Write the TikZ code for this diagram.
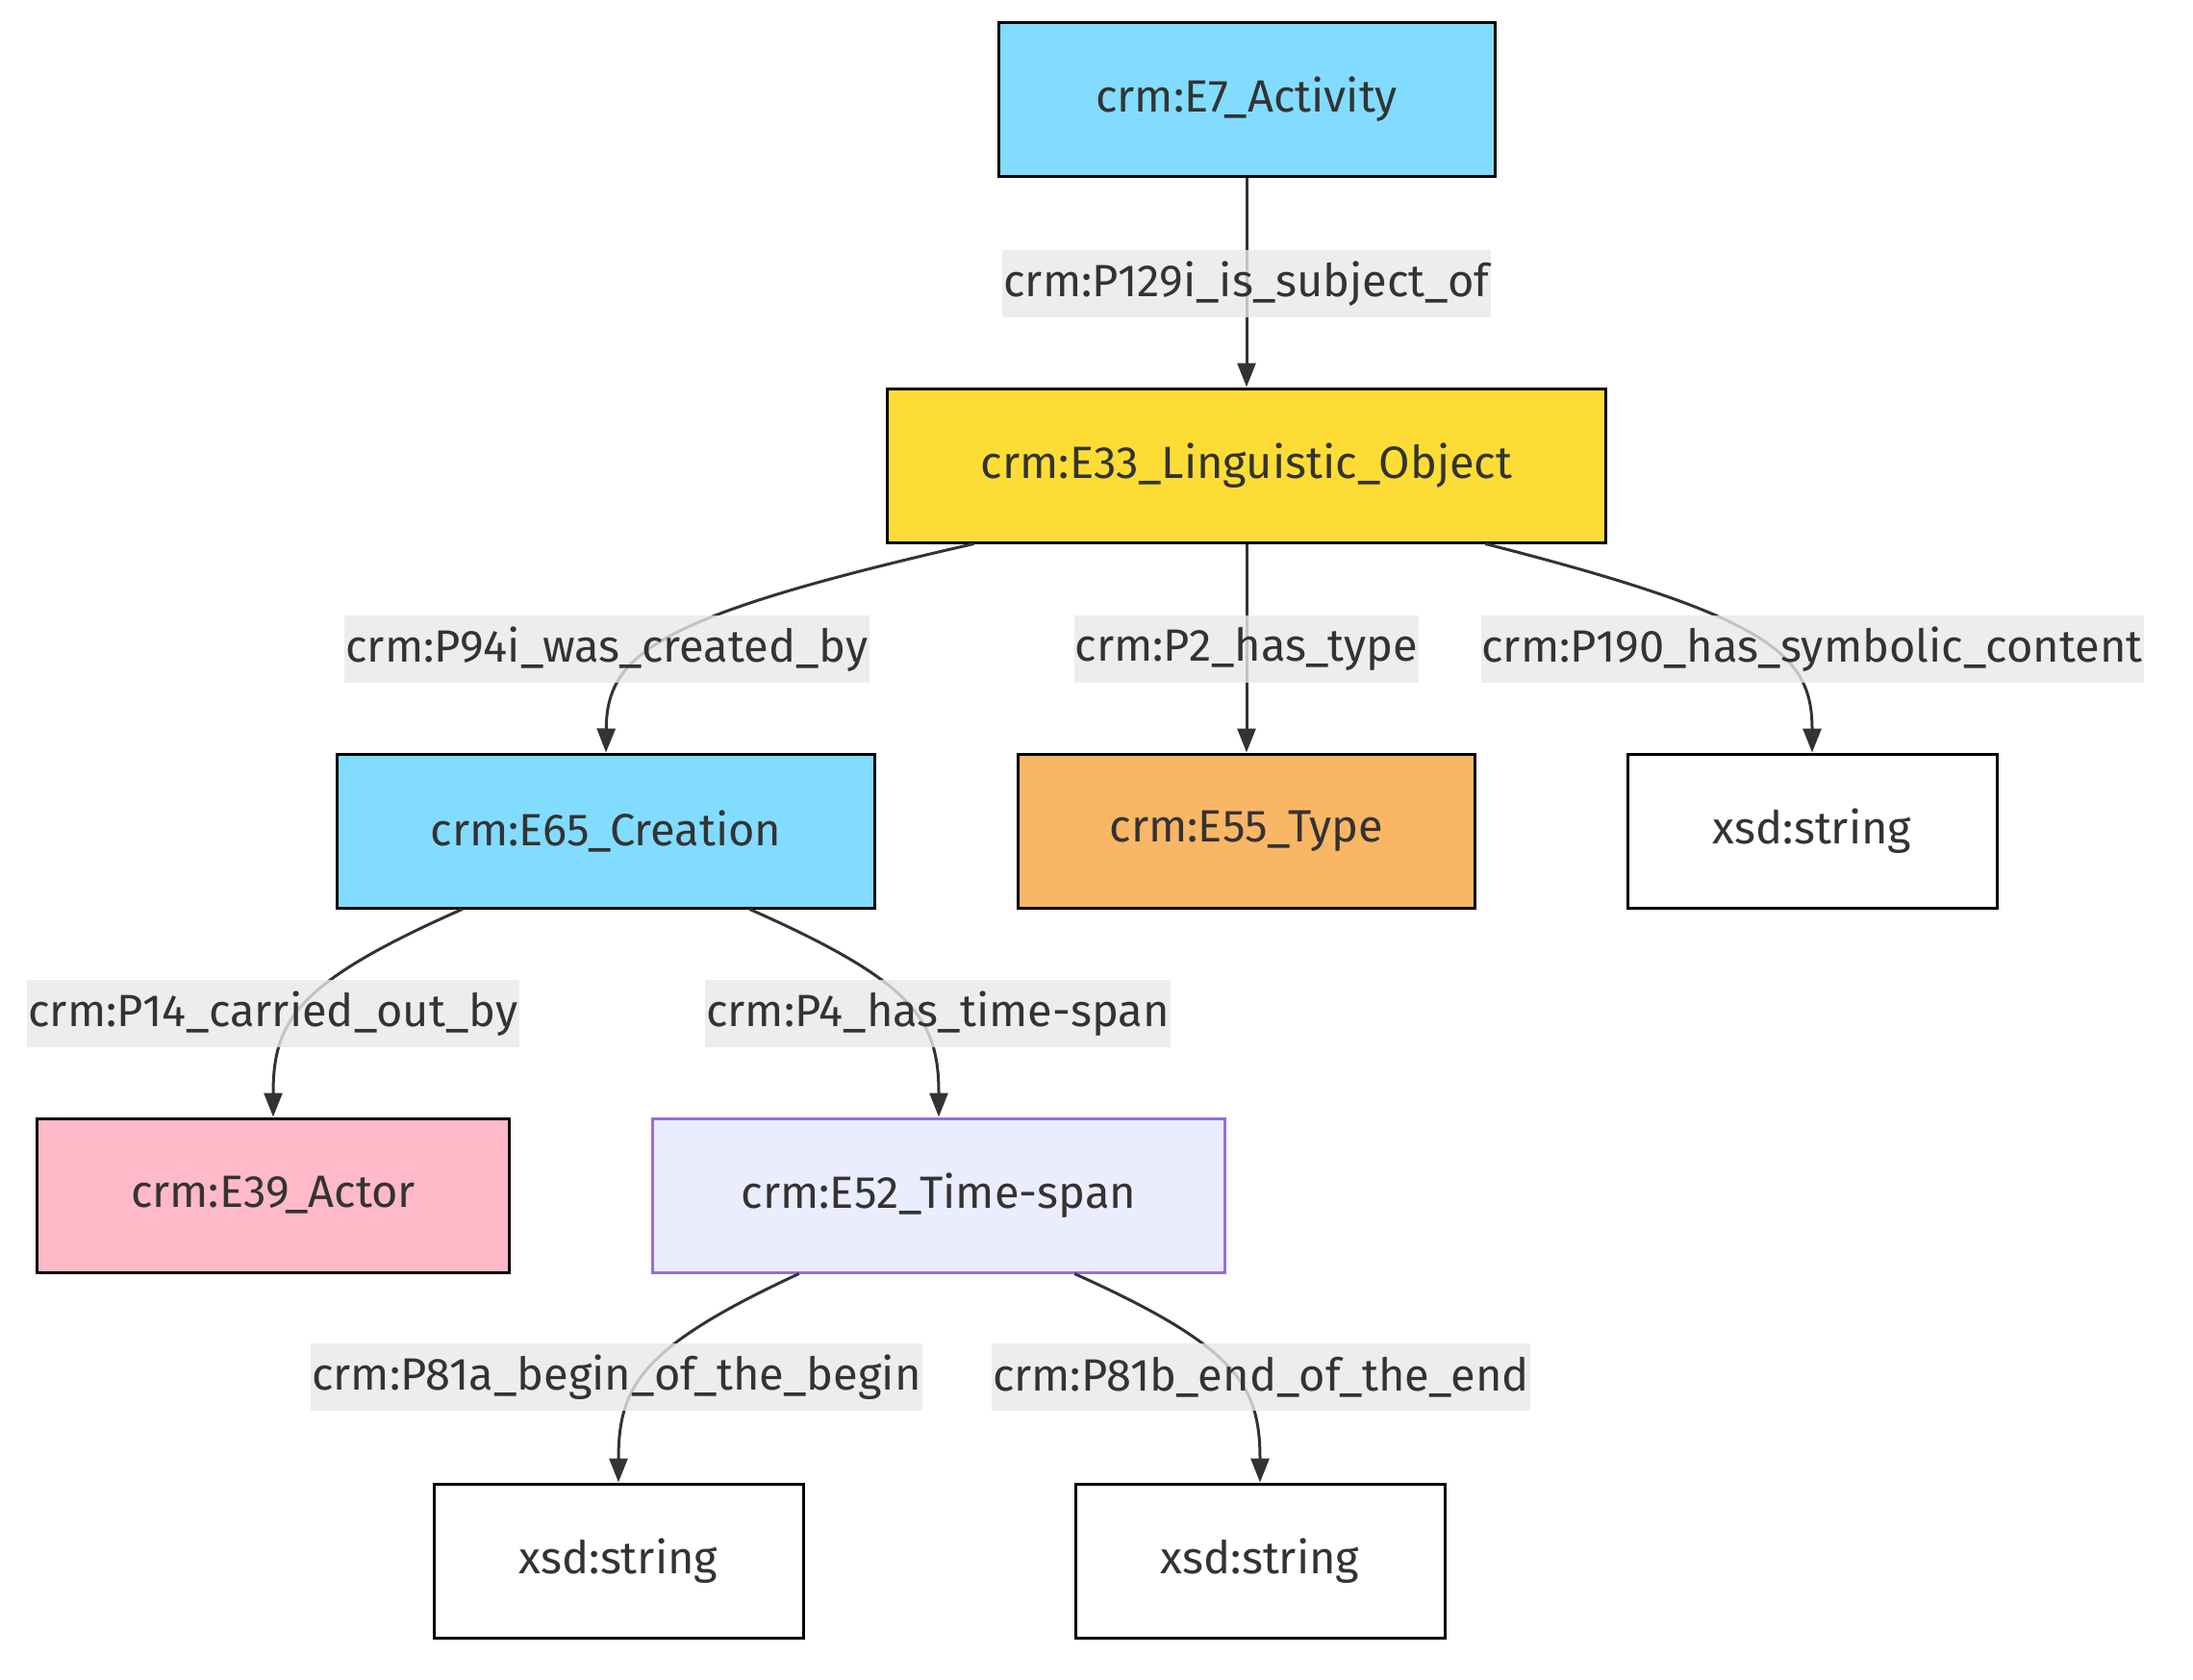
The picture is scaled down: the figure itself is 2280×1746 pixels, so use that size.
\documentclass[tikz,border=0pt]{standalone}
\usepackage{fontspec}
\setmainfont{Fira Sans}
\usetikzlibrary{arrows.meta,calc}
\definecolor{txt}{HTML}{333333}
\definecolor{actblue}{HTML}{82DCFF}
\definecolor{lingyellow}{HTML}{FDDD35}
\definecolor{typeorange}{HTML}{F9B665}
\definecolor{actorpink}{HTML}{FFB9C8}
\definecolor{spanfill}{HTML}{ECECFF}
\definecolor{spanline}{HTML}{9370DB}
\definecolor{labelbg}{HTML}{E8E8E8}
\tikzset{
  box/.style={draw=black, line width=3pt, text=txt, inner sep=0pt,
    minimum height=160pt, font=\fontsize{47}{56}\selectfont},
  lbl/.style={fill=labelbg, fill opacity=0.8, text opacity=1, text=txt,
    inner xsep=1pt, inner ysep=0pt, minimum height=70pt,
    font=\fontsize{47}{56}\selectfont},
  link/.style={draw=txt, line width=3pt, -{Triangle[length=25pt,width=19pt]}}
}
\begin{document}
\begin{tikzpicture}[x=1pt,y=-1pt]
\useasboundingbox (0,0) rectangle (2280,1746);

% classes
\node[box, fill=actblue, minimum width=516pt] (e7) at (1296,103) {crm:E7\_Activity};
\node[box, fill=lingyellow, minimum width=747pt] (e33) at (1296,484) {crm:E33\_Linguistic\_Object};
\node[box, fill=actblue, minimum width=559pt] (e65) at (630,864) {crm:E65\_Creation};
\node[box, fill=typeorange, minimum width=475pt] (e55) at (1296,864) {crm:E55\_Type};
\node[box, fill=white, minimum width=384pt] (s1) at (1884,864) {xsd:string};
\node[box, fill=actorpink, minimum width=491pt] (e39) at (284,1243) {crm:E39\_Actor};
\node[box, fill=spanfill, draw=spanline, minimum width=595pt] (e52) at (976,1243) {crm:E52\_Time-span};
\node[box, fill=white, minimum width=384pt] (s2) at (643,1623) {xsd:string};
\node[box, fill=white, minimum width=384pt] (s3) at (1310,1623) {xsd:string};

% properties
\draw[link] (e7) -- (e33);
\draw[link] ($(e33.south west)!0.122!(e33.south east)$) .. controls (681,641) and (631,680) .. (e65.north);
\draw[link] (e33) -- (e55);
\draw[link] ($(e33.south west)!0.831!(e33.south east)$) .. controls (1840,641) and (1884,680) .. (s1.north);
\draw[link] ($(e65.south west)!0.234!(e65.south east)$) .. controls (310,1021) and (284,1060) .. (e39.north);
\draw[link] ($(e65.south west)!0.766!(e65.south east)$) .. controls (950,1021) and (976,1060) .. (e52.north);
\draw[link] ($(e52.south west)!0.257!(e52.south east)$) .. controls (668,1400) and (643,1440) .. (s2.north);
\draw[link] ($(e52.south west)!0.736!(e52.south east)$) .. controls (1285,1400) and (1310,1440) .. (s3.north);

% property labels
\node[lbl] (l1) at (1296,295) {crm:P129i\_is\_subject\_of};
\node[lbl] (l2) at (631,675) {crm:P94i\_was\_created\_by};
\node[lbl] (l3) at (1296,675) {crm:P2\_has\_type};
\node[lbl] (l4) at (1884,675) {crm:P190\_has\_symbolic\_content};
\node[lbl] (l5) at (284,1054) {crm:P14\_carried\_out\_by};
\node[lbl] (l6) at (975,1054) {crm:P4\_has\_time-span};
\node[lbl] (l7) at (641,1432) {crm:P81a\_begin\_of\_the\_begin};
\node[lbl] (l8) at (1311,1432) {crm:P81b\_end\_of\_the\_end};
\end{tikzpicture}
\end{document}
